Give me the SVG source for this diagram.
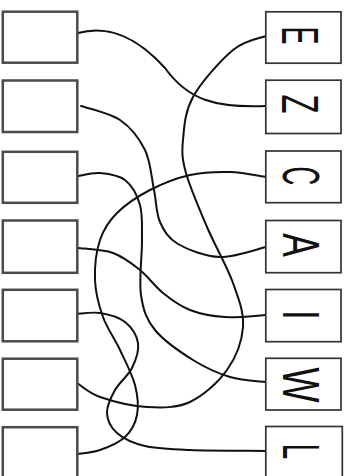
<svg xmlns="http://www.w3.org/2000/svg" width="351" height="476" viewBox="0 0 351 476">
<style>
.lb{fill:#fff;stroke:#4a4a4a;stroke-width:2.5}
.rb{fill:#fff;stroke:#333;stroke-width:1.7}
.lt{font-family:"Liberation Sans",Arial,sans-serif;font-size:52px;fill:#111;text-anchor:middle}
.cn{fill:none;stroke:#111;stroke-width:2;stroke-linecap:round}
</style>
<rect width="351" height="476" fill="#fff"/>
<g id="connectors">
<path class="cn" d="M78,33 C110,24 140,40 165,68 C188,100 215,108 266,106"/>
<path class="cn" d="M266,36 C260.5,38.3 245.2,39.8 233,50 C220.8,60.2 201.3,82 193,97 C184.7,112 184.2,127.3 183,140 C181.8,152.7 182,158.5 186,173 C190,187.5 199.2,208.7 207,227 C214.8,245.3 227,266.3 233,283 C239,299.7 244,312.5 243,327 C242,341.5 235.8,357.5 227,370 C218.2,382.5 203.3,395.8 190,402 C176.7,408.2 162,407.8 147,407 C132,406.2 111.7,401 100,397 C88.3,393 80.8,385.3 77,383"/>
<path class="cn" d="M81,106 C87.5,108.3 109.3,112.7 120,120 C130.7,127.3 139.3,138.3 145,150 C150.7,161.7 151.5,178 154,190 C156.5,202 156,213 160,222 C164,231 168,238.2 178,244 C188,249.8 205.3,256.5 220,257 C234.7,257.5 258.3,248.7 266,247"/>
<path class="cn" d="M78,176 C81.7,175.5 92.2,172.3 100,173 C107.8,173.7 118.3,174.7 125,180 C131.7,185.3 137.2,195 140,205 C142.8,215 141.8,225 142,240 C142.2,255 138.8,280 141,295 C143.2,310 146.3,319.2 155,330 C163.7,340.8 180.5,352.2 193,360 C205.5,367.8 217.8,373.3 230,377 C242.2,380.7 260,381.2 266,382"/>
<path class="cn" d="M266,177 C260,176.2 242.7,172.3 230,172 C217.3,171.7 203.3,172 190,175 C176.7,178 162.2,183.7 150,190 C137.8,196.3 125.3,204.7 117,213 C108.7,221.3 103.7,228.8 100,240 C96.3,251.2 94.5,267.2 95,280 C95.5,292.8 98.8,305.3 103,317 C107.2,328.7 114.7,338.7 120,350 C125.3,361.3 132.2,374.2 135,385 C137.8,395.8 138.7,406.3 137,415 C135.3,423.7 131.2,431.2 125,437 C118.8,442.8 108,447.2 100,450 C92,452.8 80.8,453.3 77,454"/>
<path class="cn" d="M77,314 C80.8,313.8 92,311.7 100,313 C108,314.3 118.7,317 125,322 C131.3,327 136.8,335.3 138,343 C139.2,350.7 135.8,360.2 132,368 C128.2,375.8 119.2,382.5 115,390 C110.8,397.5 106.7,405.8 107,413 C107.3,420.2 110.7,427.5 117,433 C123.3,438.5 132.8,443.2 145,446 C157.2,448.8 169.8,449.2 190,450 C210.2,450.8 253.3,450.8 266,451"/>
<path class="cn" d="M78,248 C83.8,248.8 102.7,249.3 113,253 C123.3,256.7 131.7,263.3 140,270 C148.3,276.7 154.7,286.3 163,293 C171.3,299.7 179.7,306 190,310 C200.3,314 212.3,316.2 225,317 C237.7,317.8 259.2,315.3 266,315"/>
</g>
<g id="left1"><rect class="lb" x="2.8" y="11.7" width="74.5" height="51"/></g>
<g id="left2"><rect class="lb" x="2.8" y="80.5" width="74.5" height="51.5"/></g>
<g id="left3"><rect class="lb" x="2.8" y="151.8" width="74.5" height="51"/></g>
<g id="left4"><rect class="lb" x="2.8" y="220.5" width="74.5" height="52.3"/></g>
<g id="left5"><rect class="lb" x="2.8" y="289.8" width="74.5" height="51.5"/></g>
<g id="left6"><rect class="lb" x="2.8" y="358.7" width="74.5" height="51"/></g>
<g id="left7"><rect class="lb" x="2.8" y="427.2" width="74.5" height="52"/></g>
<g id="rightE"><rect class="rb" x="265.8" y="11.8" width="75.2" height="51.4"/><text class="lt" transform="translate(301,35.5) rotate(90) scale(0.52,1)" x="0" y="18.6">E</text></g>
<g id="rightZ"><rect class="rb" x="265.8" y="80.2" width="75.2" height="53.3"/><text class="lt" transform="translate(301,104) rotate(90) scale(0.6,1)" x="0" y="18.6">Z</text></g>
<g id="rightC"><rect class="rb" x="265.8" y="151" width="75.2" height="51.7"/><text class="lt" transform="translate(302,176) rotate(90) scale(0.5,1)" x="0" y="18.6">C</text></g>
<g id="rightA"><rect class="rb" x="265.8" y="220.5" width="75.2" height="52.2"/><text class="lt" transform="translate(302,245) rotate(90) scale(0.68,1)" x="0" y="18.6">A</text></g>
<g id="rightI"><rect class="rb" x="265.8" y="289.5" width="75.2" height="52.2"/><text class="lt" transform="translate(302,315) rotate(90) scale(0.65,1)" x="0" y="18.6">I</text></g>
<g id="rightW"><rect class="rb" x="265.8" y="358.3" width="75.2" height="51.7"/><text class="lt" transform="translate(302,385) rotate(90) scale(0.72,1)" x="0" y="18.6">W</text></g>
<g id="rightL"><rect class="rb" x="265.8" y="426.5" width="76.5" height="52"/><text class="lt" transform="translate(302,451.5) rotate(90) scale(0.53,1)" x="0" y="18.6">L</text></g>
</svg>
